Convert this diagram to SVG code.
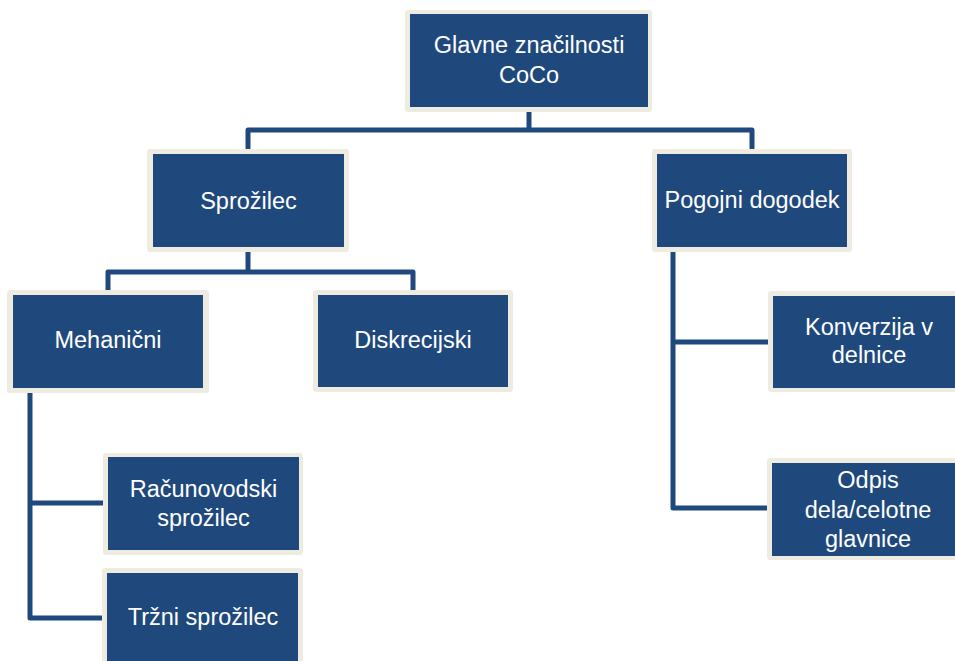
<svg xmlns="http://www.w3.org/2000/svg" width="955" height="661" viewBox="0 0 955 661">
<style>
.o{fill:#EEECE1}
.i{fill:#1F497D}
.t{fill:#FFFFFF;font-family:"Liberation Sans",Arial,sans-serif;font-size:23.5px;text-anchor:middle}
.c{fill:none;stroke:#1F497D;stroke-width:5;stroke-linejoin:round}
</style>
<rect width="955" height="661" fill="#FFFFFF"/>
<g id="connectors">
<path class="c" d="M529 112V130M248 149V130H752V149"/>
<path class="c" d="M248 252V272M108 290V272H413V290"/>
<path class="c" d="M30 393V618H103M30 503H104"/>
<path class="c" d="M673 252V508H768M673 342H769"/>
</g>
<g id="n-top">
<rect class="o" x="405" y="10" width="247" height="102" rx="3"/>
<rect class="i" x="410" y="14" width="238" height="93"/>
<text class="t" x="529" y="53">Glavne značilnosti</text>
<text class="t" x="529" y="83">CoCo</text>
</g>
<g id="n-sprozilec">
<rect class="o" x="147" y="149" width="202" height="103" rx="3"/>
<rect class="i" x="153" y="154" width="191" height="93"/>
<text class="t" x="248.5" y="209">Sprožilec</text>
</g>
<g id="n-pogojni">
<rect class="o" x="652" y="149" width="200" height="103" rx="3"/>
<rect class="i" x="657" y="154" width="190" height="93"/>
<text class="t" x="752" y="208">Pogojni dogodek</text>
</g>
<g id="n-mehanicni">
<rect class="o" x="7" y="290" width="202" height="103" rx="3"/>
<rect class="i" x="13" y="295" width="190" height="93"/>
<text class="t" x="108" y="348">Mehanični</text>
</g>
<g id="n-diskrecijski">
<rect class="o" x="313" y="290" width="200" height="102" rx="3"/>
<rect class="i" x="318" y="295" width="190" height="92"/>
<text class="t" x="413" y="348">Diskrecijski</text>
</g>
<g id="n-konverzija">
<rect class="o" x="768" y="291" width="202" height="101" rx="3"/>
<rect class="i" x="773" y="296" width="192" height="92"/>
<text class="t" x="869" y="335">Konverzija v</text>
<text class="t" x="869" y="363">delnice</text>
</g>
<g id="n-racunovodski">
<rect class="o" x="103" y="453" width="200" height="102" rx="3"/>
<rect class="i" x="108" y="457" width="191" height="93"/>
<text class="t" x="203.5" y="497">Računovodski</text>
<text class="t" x="203.5" y="526">sprožilec</text>
</g>
<g id="n-trzni">
<rect class="o" x="102" y="568" width="201" height="110" rx="3"/>
<rect class="i" x="107" y="573" width="191" height="100"/>
<text class="t" x="203" y="625">Tržni sprožilec</text>
</g>
<g id="n-odpis">
<rect class="o" x="767" y="458" width="202" height="102" rx="3"/>
<rect class="i" x="772" y="463" width="192" height="93"/>
<text class="t" x="868" y="488">Odpis</text>
<text class="t" x="868" y="518">dela/celotne</text>
<text class="t" x="868" y="547">glavnice</text>
</g>
</svg>
